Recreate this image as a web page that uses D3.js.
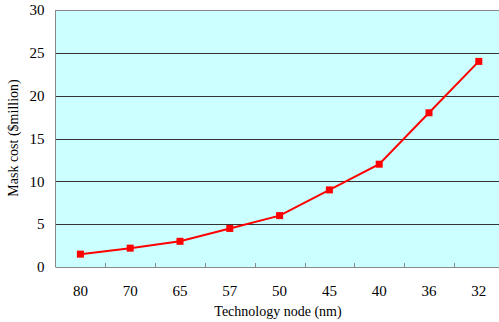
<!DOCTYPE html>
<html><head><meta charset="utf-8">
<script src="https://cdn.jsdelivr.net/npm/d3@7"></script>
<style>body{margin:0;background:#fff;overflow:hidden}svg{display:block}</style>
</head><body>
<svg id="c" width="499" height="322"></svg>
<script>
const categories = ["80","70","65","57","50","45","40","36","32"];
const maskCost = [1.5, 2.2, 3, 4.5, 6, 9, 12, 18, 24];
const yTicks = [0,5,10,15,20,25,30];
const xTitle = "Technology node (nm)";
const yTitle = "Mask cost ($million)";

(function(){
const svg = d3.select("#c");
const pL = 55.5, pT = 10, pB = 267, pR = 503.7;
const font = "'Liberation Serif', 'Times New Roman', serif";

const x = d3.scaleBand().domain(categories).range([pL, pR]).padding(0);
const y = d3.scaleLinear().domain([0, 30]).range([pB, pT]);

svg.append("rect").attr("x", pL).attr("y", pT).attr("width", pR-pL).attr("height", pB-pT)
  .attr("fill", "#CCFFFF");

svg.append("g").selectAll("line").data(yTicks.filter(d => d > 0 && d < 30)).join("line")
  .attr("x1", pL).attr("x2", pR)
  .attr("y1", d => Math.round(y(d)) + 0.5).attr("y2", d => Math.round(y(d)) + 0.5)
  .attr("stroke", "#333").attr("stroke-width", 1);

svg.append("line").attr("x1", pL).attr("x2", pR).attr("y1", pT+0.5).attr("y2", pT+0.5)
  .attr("stroke", "#888").attr("stroke-width", 1);

const yAxis = svg.append("g").attr("transform", `translate(${pL},0)`)
  .call(d3.axisLeft(y).tickValues(yTicks).tickSize(0).tickPadding(11).tickFormat(d3.format("d")));
yAxis.select(".domain").attr("stroke", "#888").attr("d", `M0,${pT}V${pB}`);
yAxis.selectAll("text").attr("font-family", font).attr("font-size", 15).attr("fill", "#000");

const xAxis = svg.append("g").attr("transform", `translate(0,${pB})`)
  .call(d3.axisBottom(x).tickSize(0).tickPadding(18));
xAxis.select(".domain").attr("stroke", "#888").attr("d", `M${pL},0.5H${pR}`);
xAxis.selectAll("text").attr("font-family", font).attr("font-size", 15).attr("fill", "#000");
svg.append("g").selectAll("line").data(categories.slice(1)).join("line")
  .attr("x1", d => Math.round(x(d)) + 0.5).attr("x2", d => Math.round(x(d)) + 0.5)
  .attr("y1", pB - 4).attr("y2", pB)
  .attr("stroke", "#888").attr("stroke-width", 1);

const pts = categories.map((c,i) => [c, maskCost[i]]);
const cx = d => x(d) + x.bandwidth()/2;
svg.append("path").datum(pts)
  .attr("fill", "none").attr("stroke", "#FF0000").attr("stroke-width", 2)
  .attr("d", d3.line().x(d => cx(d[0])).y(d => y(d[1])));
svg.append("g").selectAll("rect").data(pts).join("rect")
  .attr("x", d => cx(d[0]) - 3.5).attr("y", d => y(d[1]) - 3.5)
  .attr("width", 7).attr("height", 7).attr("fill", "#FF0000");

svg.append("text").attr("x", 278).attr("y", 316).attr("text-anchor", "middle")
  .attr("font-family", font).attr("font-size", 14).text(xTitle);
svg.append("text").attr("transform", "translate(18,138) rotate(-90)").attr("text-anchor", "middle")
  .attr("font-family", font).attr("font-size", 14).text(yTitle);
})();
</script>
</body></html>
